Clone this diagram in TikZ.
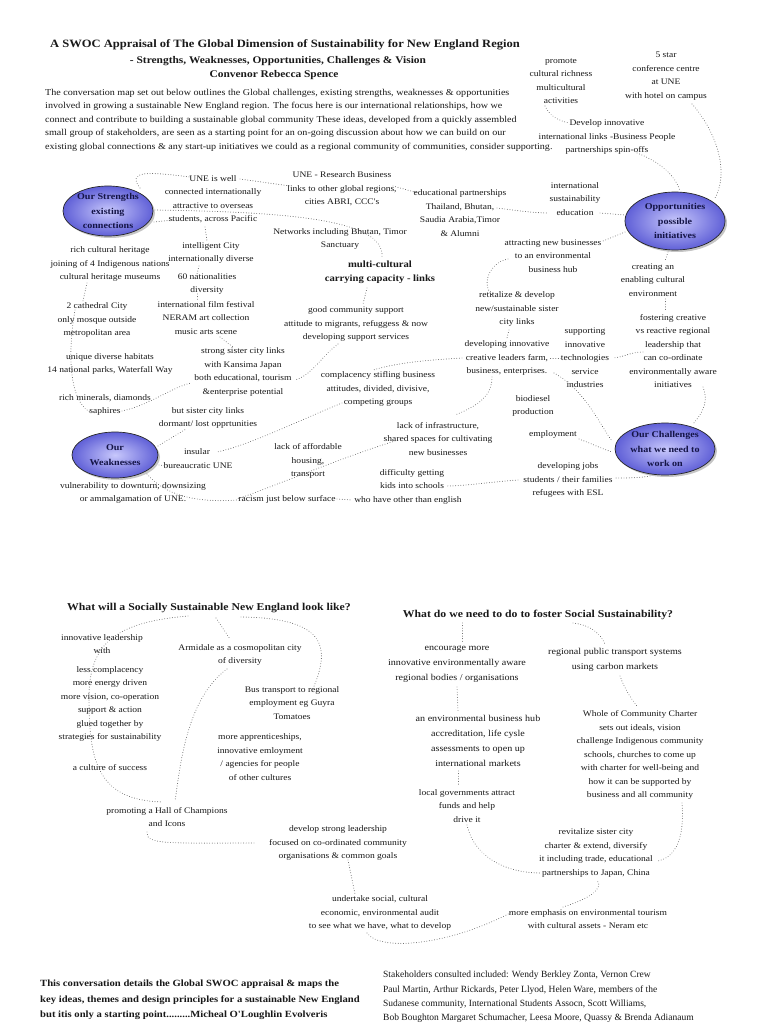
\documentclass[tikz,border=0pt]{standalone}
\usepackage{fontspec}
\setmainfont{Liberation Serif}
\newfontfamily\mapfont{Liberation Serif}[FakeStretch=1.12]
\usetikzlibrary{shapes.geometric,shadows,calc}
\definecolor{ink}{RGB}{25,25,25}
\definecolor{dotc}{RGB}{85,85,85}
\definecolor{bubin}{RGB}{200,200,252}
\definecolor{bubout}{RGB}{96,96,215}
\definecolor{bubtext}{RGB}{20,20,70}
\tikzset{
 lbl/.style={font=\mapfont\fontsize{8.5}{13.5}\selectfont, align=center, inner sep=0pt, text=ink},
 biglbl/.style={font=\mapfont\fontsize{9}{15}\selectfont, align=center, inner sep=0pt, text=ink},
 boldlbl/.style={font=\mapfont\bfseries\fontsize{9.5}{14}\selectfont, align=center, inner sep=0pt, text=ink},
 qlbl/.style={font=\mapfont\bfseries\fontsize{10.5}{14}\selectfont, align=center, inner sep=0pt, text=ink},
 titlef/.style={font=\mapfont\bfseries\fontsize{11.2}{13}\selectfont, inner sep=0pt, text=ink},
 subtitlef/.style={font=\mapfont\bfseries\fontsize{10.2}{13}\selectfont, inner sep=0pt, text=ink},
 para/.style={font=\mapfont\fontsize{9}{13.5}\selectfont, align=left, inner sep=0pt, text=ink},
 footb/.style={font=\mapfont\bfseries\fontsize{9.5}{15.5}\selectfont, align=left, inner sep=0pt, text=ink},
 footr/.style={font=\fontsize{9.5}{14.2}\selectfont, align=left, inner sep=0pt, text=ink},
 bubble/.style={ellipse, draw=black!85, line width=0.7pt, inner color=bubin, outer color=bubout,
   drop shadow={shadow xshift=2pt, shadow yshift=-2pt, opacity=0.45},
   font=\mapfont\bfseries\fontsize{9}{14.5}\selectfont, text=bubtext, align=center, inner sep=0pt},
 link/.style={draw=dotc, line width=0.9pt, dash pattern=on 0.01pt off 2.6pt, line cap=round},
}
\begin{document}
\begin{tikzpicture}[x=1pt,y=-1pt]
\path[use as bounding box, fill=white] (0,0) rectangle (768,1024);

% titles
\node[titlef] (t1) at (285,45) {A SWOC Appraisal of The Global Dimension of Sustainability for New England Region};
\node[subtitlef] (t2) at (278,61) {- Strengths, Weaknesses, Opportunities, Challenges \& Vision};
\node[subtitlef] (t3) at (274,75) {Convenor Rebecca Spence};
\node[para, anchor=west] (intro) at (45,120) {The conversation map set out below outlines the Global  challenges, existing strengths, weaknesses \& opportunities\\involved in growing a sustainable New England region. The focus here is our international relationships, how we\\connect and contribute to building a sustainable global community These ideas, developed from a quickly assembled\\small group of stakeholders, are seen as a starting point for an on-going discussion about how we can build on our\\existing global connections \& any start-up initiatives we could as a regional community of communities, consider supporting.};

% bubbles
\node[bubble, minimum width=90pt, minimum height=50pt] (str) at (108,211) {Our Strengths\\existing\\connections};
\node[bubble, minimum width=100pt, minimum height=58pt] (opp) at (675,221) {Opportunities\\possible\\initiatives};
\node[bubble, minimum width=100pt, minimum height=52pt] (chal) at (665,449) {Our Challenges\\what we need to\\work on};
\node[bubble, minimum width=86pt, minimum height=46pt] (weak) at (115,455) {Our\\Weaknesses};

% top right
\node[lbl] (promote) at (561,81) {promote\\cultural richness\\multicultural\\activities};
\node[lbl] (star) at (666,76) {5 star\\conference centre\\at UNE\\with hotel on campus};
\node[lbl] (develop) at (607,137) {Develop innovative\\international links -Business People\\partnerships spin-offs};

% strengths area
\node[lbl] (uneWell) at (213,199) {UNE is well\\connected internationally\\attractive to overseas\\students, across Pacific};
\node[lbl] (uneRes) at (342,189) {UNE - Research Business\\links to other global regions,\\cities ABRI, CCC's};
\node[lbl] (edu) at (460,213) {educational partnerships\\Thailand, Bhutan,\\Saudia Arabia,Timor\\\& Alumni};
\node[lbl] (networks) at (340,239) {Networks including Bhutan, Timor\\Sanctuary};
\node[lbl] (intl) at (575,199) {international\\sustainability\\education};
\node[lbl] (heritage) at (110,264) {rich cultural heritage\\joining of 4 Indigenous nations\\cultural heritage museums};
\node[lbl] (intel) at (211,253) {intelligent City\\internationally diverse};
\node[lbl] (sixty) at (207,284) {60 nationalities\\diversity};
\node[lbl] (film) at (206,318) {international film festival\\NERAM art collection\\music arts scene};
\node[boldlbl] (multi) at (380,272) {multi-cultural\\carrying capacity - links};
\node[lbl] (goodcomm) at (356,324) {good community support\\attitude to migrants, refuggess \& now\\developing support services};
\node[lbl] (cathedral) at (97,320) {2 cathedral City\\only mosque outside\\metropolitan area};
\node[lbl] (habitats) at (110,364) {unique diverse habitats\\14 national parks, Waterfall Way};
\node[lbl] (minerals) at (105,405) {rich minerals, diamonds\\saphires};
\node[lbl] (sister) at (243,372) {strong sister city links\\with Kansima Japan\\both educational, tourism\\\&enterprise potential};
\node[lbl] (butsister) at (208,418) {but sister city links\\dormant/ lost opprtunities};

% opportunities area
\node[lbl] (attract) at (553,256) {attracting new businesses\\to an environmental\\business hub};
\node[lbl] (retit) at (517,309) {retitalize \& develop\\new/sustainable sister\\city links};
\node[lbl] (creating) at (653,280) {creating an\\enabling cultural\\environment};
\node[lbl] (fostering) at (673,351) {fostering creative\\vs reactive regional\\leadership that\\can co-ordinate\\environmentally aware\\initiatives};
\node[lbl] (devinnov) at (507,358) {developing innovative\\creative leaders farm,\\business, enterprises.};
\node[lbl] (supporting) at (585,358) {supporting\\innovative\\technologies\\service\\industries};

% challenges / weaknesses area
\node[lbl] (complacency) at (378,389) {complacency stifling  business\\attitudes, divided, divisive,\\competing groups};
\node[lbl] (biodiesel) at (533,406) {biodiesel\\production};
\node[lbl] (employment) at (553,434) {employment};
\node[lbl] (insular) at (197,452) {insular};
\node[lbl] (bureau) at (198,466) {bureaucratic UNE};
\node[lbl] (lackinfra) at (438,439) {lack of infrastructure,\\shared spaces for cultivating\\new businesses};
\node[lbl] (housing) at (308,461) {lack of affordable\\housing,\\transport};
\node[lbl] (difficulty) at (412,479) {difficulty getting\\kids into schools};
\node[lbl] (whohave) at (408,500) {who have other than english};
\node[lbl] (racism) at (287,499) {racism just below surface};
\node[lbl] (vulner) at (133,493) {vulnerability to downturn, downsizing\\or ammalgamation of UNE.};
\node[lbl] (devjobs) at (568,480) {developing jobs\\students / their families\\refugees with ESL};

% lower half
\node[qlbl] (q1) at (209,608) {What will a Socially Sustainable New England look like?};
\node[qlbl] (q2) at (538,615) {What do we need to do to foster Social Sustainability?};
\node[lbl] (innovlead) at (102,644) {innovative leadership\\with};
\node[lbl] (lesscomp) at (110,704) {less complacency\\more energy driven\\more vision, co-operation\\support \& action\\glued together by\\strategies for sustainability};
\node[lbl] (culture) at (110,768) {a culture of success};
\node[lbl] (armidale) at (240,655) {Armidale as a cosmopolitan city\\of diversity};
\node[lbl] (bus) at (292,703) {Bus transport to regional\\employment eg Guyra\\Tomatoes};
\node[lbl] (apprent) at (260,757) {more apprenticeships,\\innovative emloyment\\/ agencies for people\\of other cultures};
\node[lbl] (hall) at (167,817) {promoting a Hall of Champions\\and Icons};
\node[lbl] (devstrong) at (338,843) {develop strong leadership\\focused on co-ordinated community\\organisations \& common goals};
\node[lbl] (undertake) at (380,913) {undertake social, cultural\\economic, environmental audit\\to see what we have, what to develop};
\node[biglbl] (encourage) at (457,664) {encourage more\\innovative environmentally aware\\regional  bodies / organisations};
\node[biglbl] (transport) at (615,660) {regional public transport systems\\using carbon markets};
\node[biglbl] (envhub) at (478,741) {an environmental business hub\\accreditation, life cysle\\assessments to open up\\international markets};
\node[lbl] (localgov) at (467,806) {local governments attract\\funds and help\\drive it};
\node[lbl] (whole) at (640,755) {Whole of Community Charter\\sets out ideals, vision\\challenge Indigenous community\\schools, churches to come up\\with charter for well-being and\\how it can be supported by\\business and all community};
\node[lbl] (revital) at (596,853) {revitalize sister city\\charter \& extend, diversify\\it including trade, educational\\partnerships to Japan, China};
\node[lbl] (emphasis) at (588,919) {more emphasis on environmental tourism\\with cultural assets - Neram etc};

% footer
\node[footb, anchor=west] (footL) at (40,1000) {This conversation details the Global SWOC appraisal \& maps the\\key ideas, themes and design principles for a sustainable New England\\but itis only a starting point.........Micheal O'Loughlin Evolveris};
\node[footr, anchor=west] (footR) at (383,997) {Stakeholders consulted included: Wendy Berkley Zonta, Vernon Crew\\Paul Martin, Arthur Rickards, Peter Llyod, Helen Ware, members of the\\Sudanese community, International Students Assocn, Scott Williams,\\Bob Boughton Margaret Schumacher, Leesa Moore, Quassy \& Brenda Adianaum};

% connectors (top)
\draw[link] ($(str)+(32,-23)$) .. controls (126,170) and (150,172) .. ($(uneWell)+(-23,-22)$);
\draw[link] ($(uneWell)+(27,-20)$) -- ($(uneRes)+(-52,-3)$);
\draw[link] ($(uneRes)+(51,-3)$) -- ($(edu)+(-42,-20)$);
\draw[link] ($(edu)+(37,-5)$) .. controls (520,211) and (535,213) .. ($(intl)+(-27,14)$);
\draw[link] ($(intl)+(25,14)$) -- ($(opp)+(-50,-6)$);
\draw[link] ($(str)+(47,-1)$) .. controls (280,212) and (385,218) .. ($(multi)+(2,-15)$);
\draw[link] ($(str)+(46,11)$) -- ($(uneWell)+(-40,21)$);
\draw[link] ($(uneWell)+(-8,28)$) -- ($(intel)+(-4,-12)$);
\draw[link] ($(intel)+(-12,13)$) -- ($(sixty)+(-10,-10)$);
\draw[link] ($(sixty)+(-10,10)$) -- ($(film)+(-9,-18)$);
\draw[link] ($(film)+(14,19)$) -- ($(sister)+(-10,-25)$);
\draw[link] ($(heritage)+(-23,19)$) -- ($(cathedral)+(-14,-19)$);
\draw[link] ($(cathedral)+(-22,-10)$) .. controls (68,350) and (68,400) .. ($(minerals)+(-15,7)$);
\draw[link] ($(minerals)+(17,6)$) .. controls (150,405) and (170,388) .. ($(sister)+(-52,11)$);
\draw[link] ($(goodcomm)+(-18,20)$) .. controls (320,358) and (312,375) .. ($(sister)+(52,8)$);
\draw[link] ($(multi)+(-13,16)$) -- ($(goodcomm)+(7,-20)$);
\draw[link] ($(star)+(26,28)$) .. controls (715,130) and (730,170) .. ($(opp)+(40,-23)$);
\draw[link] ($(promote)+(-16,25)$) .. controls (550,117) and (560,121) .. ($(develop)+(-38,-14)$);
\draw[link] ($(develop)+(30,16)$) .. controls (660,162) and (675,175) .. ($(opp)+(5,-30)$);
\draw[link] ($(opp)+(-50,11)$) -- ($(attract)+(50,-15)$);
\draw[link] ($(attract)+(-45,3)$) .. controls (490,262) and (480,285) .. ($(retit)+(-24,-13)$);
\draw[link] ($(retit)+(-8,21)$) -- ($(devinnov)+(0,-20)$);
\draw[link] ($(opp)+(-7,31)$) -- ($(creating)+(12,-19)$);
\draw[link] ($(creating)+(12,19)$) -- ($(fostering)+(-8,-39)$);
\draw[link] ($(fostering)+(-30,1)$) .. controls (630,352) and (625,357) .. ($(supporting)+(28,0)$);
\draw[link] ($(supporting)+(-24,0)$) -- ($(devinnov)+(42,0)$);
\draw[link] ($(devinnov)+(47,15)$) .. controls (585,390) and (600,425) .. ($(chal)+(-53,-8)$);
\draw[link] ($(fostering)+(30,36)$) .. controls (708,400) and (705,410) .. ($(chal)+(28,-25)$);
\draw[link] ($(employment)+(26,5)$) .. controls (590,443) and (600,448) .. ($(chal)+(-53,3)$);
\draw[link] ($(chal)+(-15,27)$) .. controls (640,478) and (625,478) .. ($(devjobs)+(48,-2)$);
\draw[link] ($(devjobs)+(-50,0)$) .. controls (490,482) and (465,486) .. ($(difficulty)+(34,7)$);
\draw[link] ($(devinnov)+(-15,19)$) .. controls (492,395) and (480,405) .. ($(lackinfra)+(17,-24)$);
\draw[link] ($(lackinfra)+(-43,2)$) .. controls (340,458) and (270,488) .. ($(racism)+(-50,0)$);
\draw[link] ($(devinnov)+(-45,0)$) .. controls (430,360) and (400,362) .. ($(complacency)+(-5,-19)$);
\draw[link] ($(complacency)+(-36,14)$) .. controls (300,420) and (250,445) .. ($(insular)+(20,0)$);
\draw[link] ($(weak)+(43,-9)$) -- ($(butsister)+(-22,11)$);
\draw[link] ($(weak)+(44,10)$) -- ($(bureau)+(-31,0)$);
\draw[link] ($(weak)+(32,19)$) .. controls (165,495) and (195,503) .. ($(racism)+(-50,1)$);
\draw[link] ($(racism)+(50,0)$) -- ($(whohave)+(-56,0)$);

% connectors (bottom)
\coordinate (lw) at (89,700);
\draw[link] ($(q1)+(-21,8)$) .. controls (120,622) and (88,640) .. (lw) .. controls (89,765) and (100,800) .. ($(hall)+(-5,-15)$);
\draw[link] ($(q1)+(7,10)$) -- ($(armidale)+(-10,-16)$);
\draw[link] ($(armidale)+(-13,14)$) .. controls (185,700) and (180,770) .. ($(hall)+(8,-16)$);
\draw[link] ($(q1)+(32,9)$) .. controls (330,618) and (330,650) .. ($(bus)+(20,-12)$);
\draw[link] ($(hall)+(-20,15)$) .. controls (145,845) and (170,843) .. ($(devstrong)+(-82,0)$);
\draw[link] ($(devstrong)+(10,17)$) -- ($(undertake)+(-25,-19)$);
\draw[link] ($(undertake)+(-13,20)$) .. controls (380,952) and (450,945) .. ($(emphasis)+(-76,-7)$);
\draw[link] ($(emphasis)+(-25,-12)$) .. controls (585,900) and (605,890) .. ($(revital)+(1,27)$);
\draw[link] ($(localgov)+(0,19)$) .. controls (475,860) and (510,873) .. ($(revital)+(-56,20)$);
\draw[link] ($(whole)+(42,48)$) .. controls (684,830) and (680,856) .. ($(revital)+(62,8)$);
\draw[link] ($(q2)+(-76,8)$) -- ($(encourage)+(5,-21)$);
\draw[link] ($(encourage)+(0,23)$) -- ($(envhub)+(-20,-30)$);
\draw[link] ($(envhub)+(-20,30)$) -- ($(localgov)+(-9,-20)$);
\draw[link] ($(q2)+(35,8)$) .. controls (590,625) and (600,633) .. ($(transport)+(-10,-16)$);
\draw[link] ($(transport)+(5,16)$) .. controls (625,690) and (632,700) .. ($(whole)+(-3,-49)$);
\end{tikzpicture}
\end{document}
